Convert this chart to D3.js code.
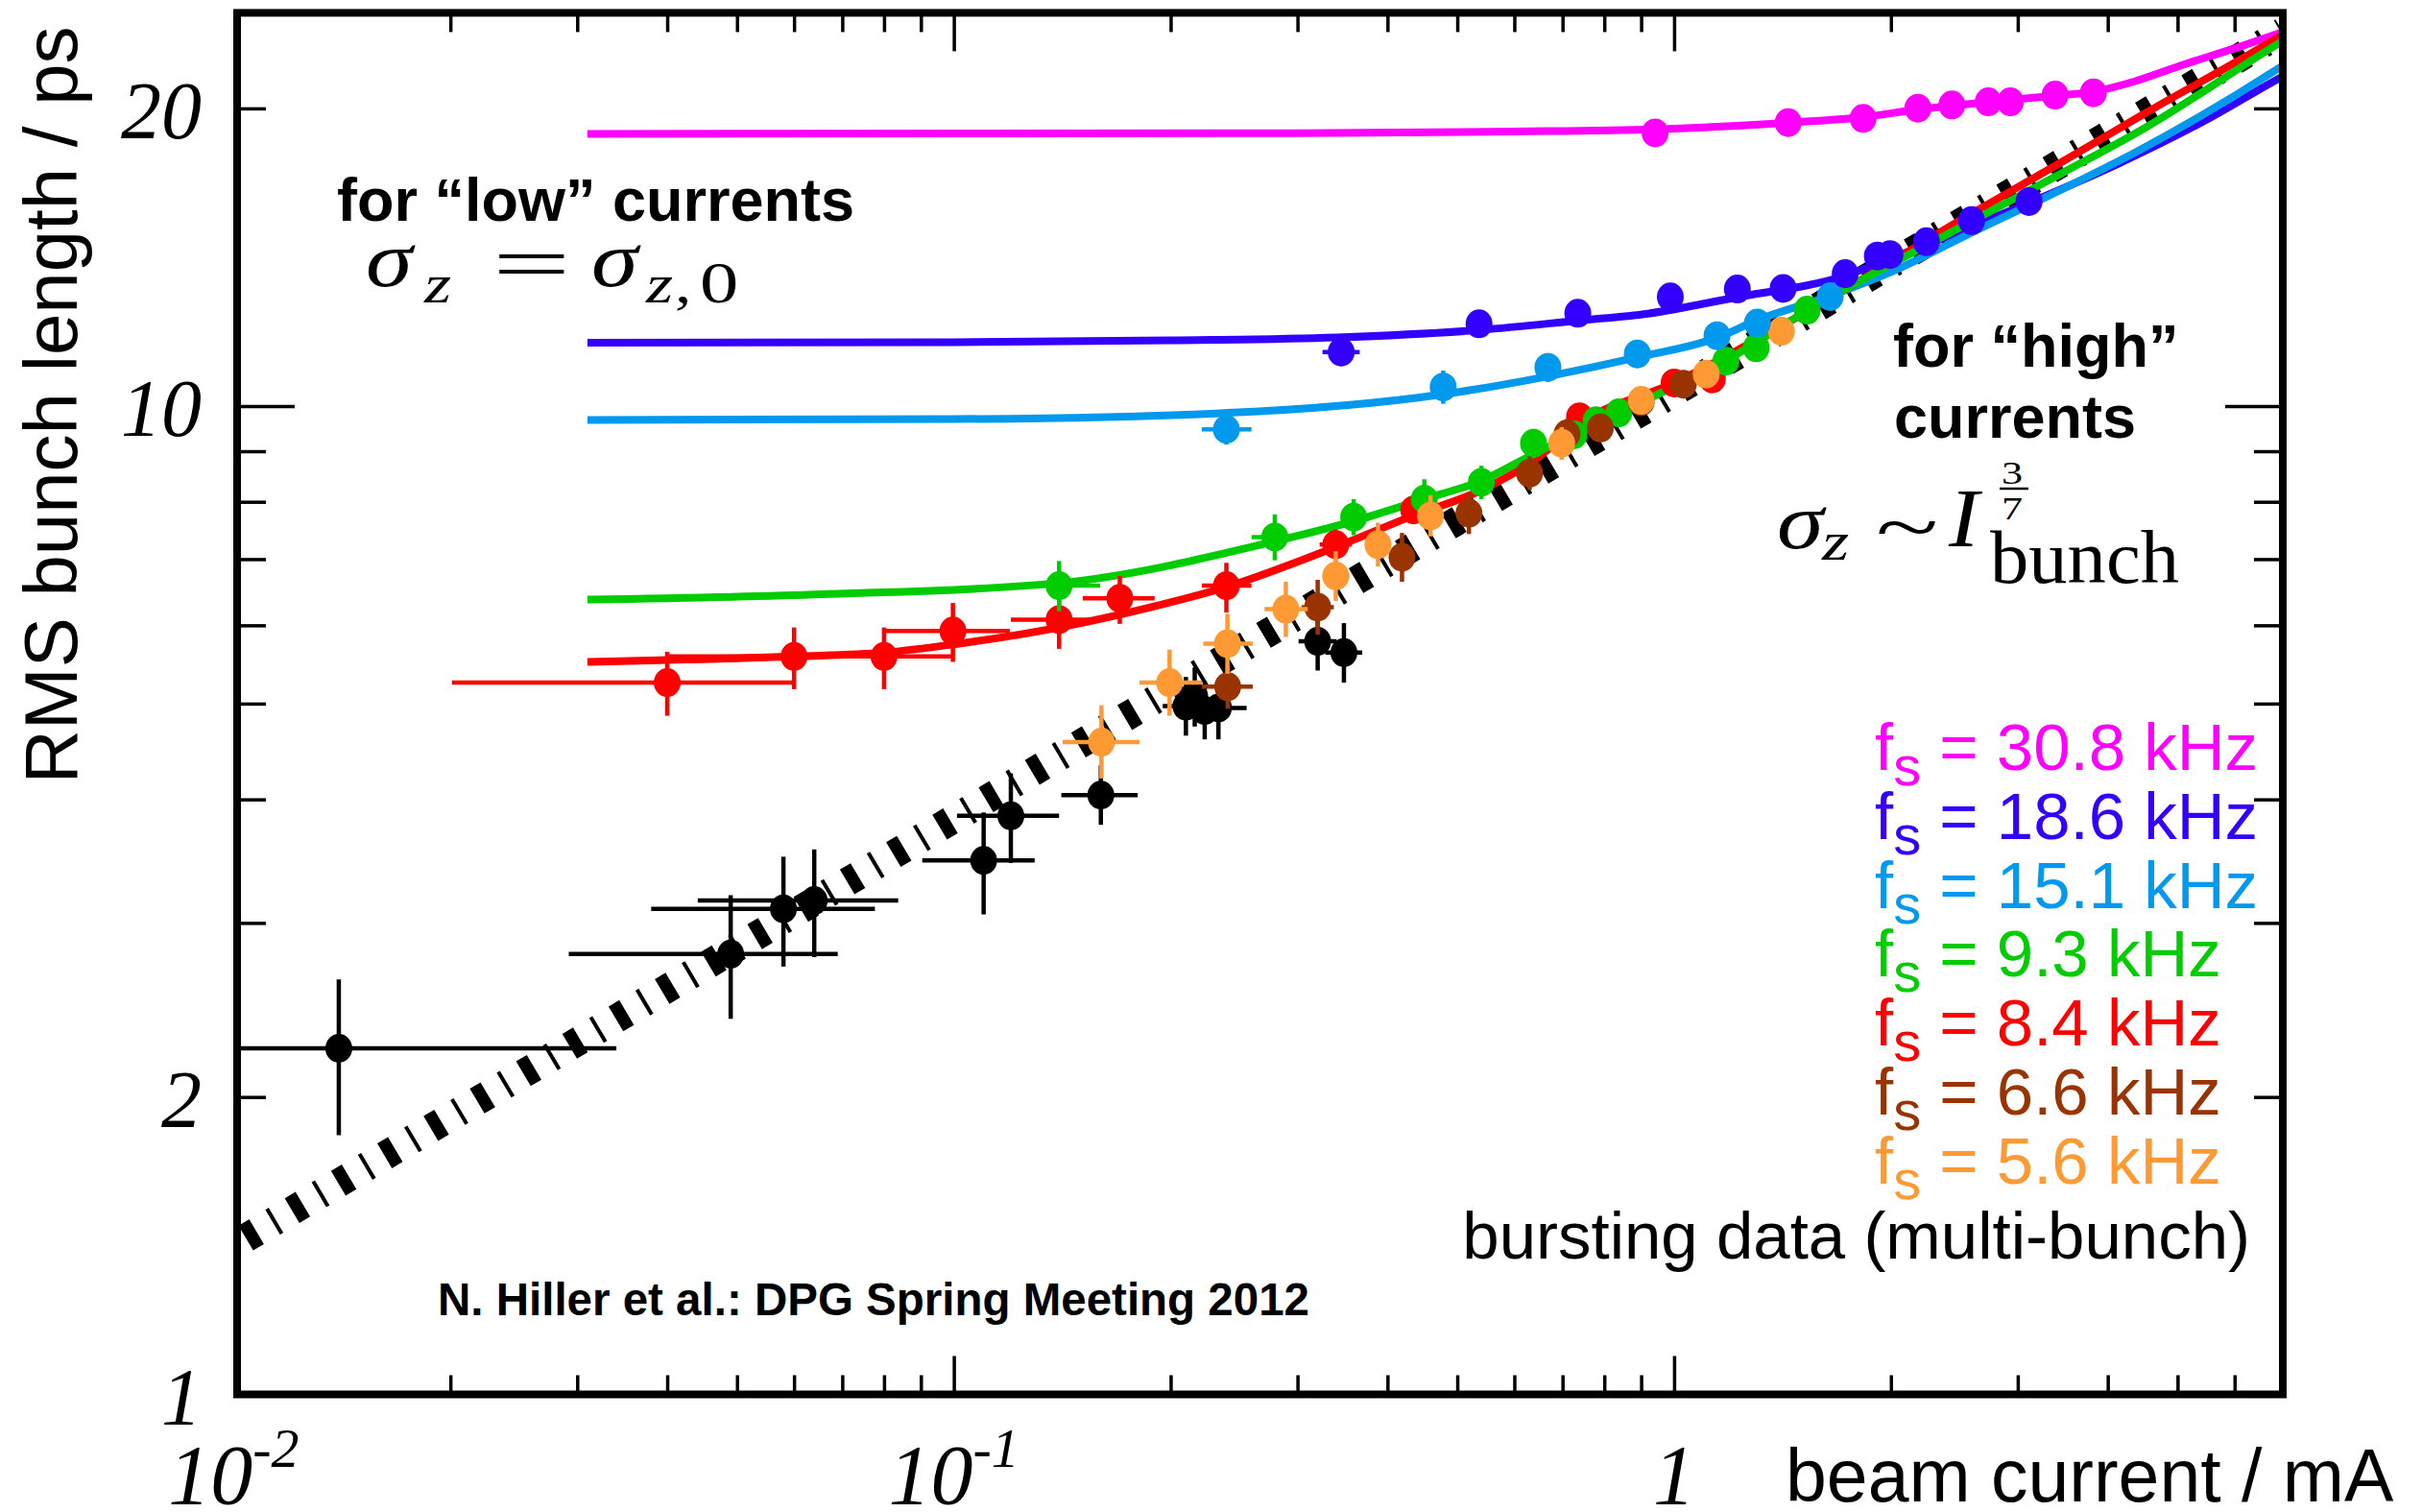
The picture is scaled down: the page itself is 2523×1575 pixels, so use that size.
<!DOCTYPE html>
<html>
<head>
<meta charset="utf-8">
<title>RMS bunch length vs beam current</title>
<script src="https://cdn.jsdelivr.net/npm/d3@7/dist/d3.min.js"></script>
<style>
  html, body { margin: 0; padding: 0; background: #fff; }
  svg { display: block; }
</style>
</head>
<body>
<svg id="chart" width="2523" height="1575"></svg>
<script>
// values: beam current in mA, bunch length in ps
// point rows: [I, sigma, Ilow, Ihigh, sigmaLow, sigmaHigh]

var blackPts = [
  [0.014, 2.24, 0.0058, 0.034, 1.83, 2.63],
  [0.049, 2.79, 0.0292, 0.069, 2.40, 3.20],
  [0.058, 3.10, 0.038, 0.0777, 2.71, 3.50],
  [0.064, 3.16, 0.0441, 0.0837, 2.77, 3.56],
  [0.110, 3.47, 0.0904, 0.1295, 3.06, 3.88],
  [0.120, 3.85, 0.101, 0.140, 3.45, 4.25],
  [0.160, 4.04, 0.141, 0.180, 3.77, 4.33],
  [0.210, 4.97, 0.195, 0.225, 4.64, 5.32],
  [0.216, 5.08, 0.216, 0.216, 4.74, 5.44],
  [0.223, 4.92, 0.223, 0.223, 4.60, 5.27],
  [0.233, 4.95, 0.215, 0.255, 4.60, 5.30],
  [0.320, 5.78, 0.301, 0.340, 5.40, 6.18],
  [0.348, 5.63, 0.328, 0.369, 5.25, 6.03]
];

var redPts = [
  [0.040, 5.25, 0.0201, 0.0599, 4.86, 5.64],
  [0.060, 5.58, 0.040, 0.080, 5.17, 5.97],
  [0.080, 5.58, 0.060, 0.0994, 5.17, 5.97],
  [0.0997, 5.92, 0.080, 0.1196, 5.51, 6.32],
  [0.140, 6.08, 0.120, 0.160, 5.68, 6.56],
  [0.170, 6.39, 0.151, 0.190, 6.02, 6.73],
  [0.239, 6.58, 0.221, 0.259, 6.18, 6.94],
  [0.339, 7.24, 0.322, 0.357, 6.98, 7.50],
  [0.435, 7.85, 0.435, 0.435, 7.60, 8.10],
  [0.739, 9.75, 0.739, 0.739, 9.50, 10.0],
  [1.00, 10.55, 1.00, 1.00, 10.3, 10.8],
  [1.13, 10.65, 1.13, 1.13, 10.4, 10.9]
];

var greenPts = [
  [0.140, 6.58, 0.1227, 0.1597, 6.20, 6.97],
  [0.279, 7.37, 0.259, 0.300, 6.98, 7.77],
  [0.359, 7.72, 0.345, 0.373, 7.40, 8.05],
  [0.450, 8.05, 0.438, 0.462, 7.69, 8.43],
  [0.540, 8.37, 0.540, 0.540, 8.05, 8.70],
  [0.638, 9.17, 0.638, 0.638, 8.87, 9.48],
  [0.726, 9.35, 0.726, 0.726, 9.10, 9.60],
  [0.779, 9.66, 0.779, 0.779, 9.40, 9.92],
  [0.838, 9.84, 0.838, 0.838, 9.58, 10.1],
  [1.18, 11.10, 1.18, 1.18, 10.85, 11.35],
  [1.30, 11.45, 1.30, 1.30, 11.2, 11.7],
  [1.53, 12.50, 1.53, 1.53, 12.5, 12.5]
];

var brownPts = [
  [0.240, 5.20, 0.221, 0.260, 4.94, 5.47],
  [0.320, 6.26, 0.304, 0.337, 5.87, 6.67],
  [0.419, 7.03, 0.419, 0.419, 6.64, 7.44],
  [0.519, 7.79, 0.519, 0.519, 7.42, 8.17],
  [0.630, 8.55, 0.630, 0.630, 8.22, 8.89],
  [0.710, 9.37, 0.710, 0.710, 9.05, 9.70],
  [0.790, 9.50, 0.790, 0.790, 9.20, 9.80],
  [0.900, 10.1, 0.900, 0.900, 9.80, 10.4],
  [1.03, 10.52, 1.03, 1.03, 10.25, 10.8]
];

var orangePts = [
  [0.1603, 4.57, 0.1416, 0.181, 4.20, 4.98],
  [0.1993, 5.25, 0.181, 0.221, 4.86, 5.67],
  [0.2398, 5.75, 0.222, 0.260, 5.36, 6.16],
  [0.289, 6.23, 0.270, 0.310, 5.84, 6.64],
  [0.339, 6.73, 0.325, 0.354, 6.35, 7.13],
  [0.388, 7.24, 0.376, 0.400, 6.88, 7.62],
  [0.459, 7.74, 0.459, 0.459, 7.38, 8.12],
  [0.698, 9.17, 0.698, 0.698, 8.82, 9.52],
  [0.900, 10.13, 0.900, 0.900, 9.84, 10.43],
  [1.108, 10.77, 1.108, 1.108, 10.5, 11.04],
  [1.409, 11.90, 1.409, 1.409, 11.65, 12.15]
];

var lightbluePts = [
  [0.239, 9.47, 0.221, 0.259, 9.14, 9.81],
  [0.478, 10.45, 0.478, 0.478, 10.05, 10.86],
  [0.668, 10.94, 0.668, 0.668, 10.58, 11.31],
  [0.889, 11.29, 0.889, 0.889, 10.93, 11.66],
  [1.147, 11.78, 1.147, 1.147, 11.5, 12.06],
  [1.305, 12.13, 1.305, 1.305, 12.13, 12.13],
  [1.647, 12.90, 1.647, 1.647, 12.9, 12.9]
];

var bluePts = [
  [0.345, 11.34, 0.325, 0.366, 10.98, 11.70],
  [0.536, 12.11, 0.536, 0.536, 11.74, 12.48],
  [0.735, 12.41, 0.735, 0.735, 12.05, 12.78],
  [0.988, 12.89, 0.988, 0.988, 12.6, 13.2],
  [1.224, 13.13, 1.224, 1.224, 13.13, 13.13],
  [1.417, 13.15, 1.417, 1.417, 13.15, 13.15],
  [1.728, 13.61, 1.728, 1.728, 13.61, 13.61],
  [1.915, 14.18, 1.915, 1.915, 14.18, 14.18],
  [1.994, 14.23, 1.994, 1.994, 14.23, 14.23],
  [2.24, 14.66, 2.24, 2.24, 14.66, 14.66],
  [2.588, 15.40, 2.588, 2.588, 15.4, 15.4],
  [3.11, 16.10, 3.11, 3.11, 16.1, 16.1]
];

var magentaPts = [
  [0.941, 18.89], [1.44, 19.35], [1.83, 19.54], [2.18, 20.01], [2.43, 20.16],
  [2.73, 20.31], [2.93, 20.31], [3.38, 20.63], [3.82, 20.74]
];

// fitted curves
var magentaFit = [[0.031,18.85],[0.3,18.88],[0.6,18.95],[0.94,19.05],[1.44,19.35],[1.83,19.6],[2.18,19.95],
  [2.73,20.3],[3.38,20.6],[3.83,20.8],[4.36,21.3],[5.1,22.15],[6.0,23.0],[7.0,23.9]];
var blueFit = [[0.031,11.59],[0.1,11.6],[0.2,11.65],[0.34,11.73],[0.54,11.94],[0.735,12.2],[0.92,12.4],
  [1.2,12.85],[1.73,13.55],[2.0,14.1],[2.6,15.2],[3.11,16.05],[4.15,17.6],[5.5,19.5],[6.8,21.3],[7.0,21.55]];
var lightblueFit = [[0.031,9.68],[0.1,9.7],[0.24,9.84],[0.48,10.28],[0.67,10.72],[0.89,11.2],[1.15,11.73],
  [1.3,12.2],[1.65,12.93],[2.0,13.66],[2.6,15.0],[3.36,16.4],[4.4,18.1],[6.8,21.8],[7.0,22.1]];
var greenFit = [[0.031,6.37],[0.066,6.45],[0.14,6.62],[0.28,7.3],[0.36,7.65],[0.45,8.05],[0.54,8.4],
  [0.64,8.95],[0.84,9.83],[1.0,10.47],[1.2,11.2],[1.52,12.45],[2.6,15.4],[3.43,17.15],[4.5,19.1],[6.8,23.1],[7.0,23.4]];
var redFit = [[0.031,5.51],[0.06,5.58],[0.08,5.63],[0.1,5.74],[0.14,5.97],[0.188,6.26],[0.239,6.56],
  [0.339,7.2],[0.435,7.75],[0.54,8.22],[0.638,8.8],[0.739,9.6],[1.0,10.55],[1.5,12.36],[2.6,15.68],
  [3.43,17.6],[4.5,19.76],[6.8,23.45],[7.0,23.75]];

// sigma ~ I^(3/7) guide line, its two ends
var scalingLine = [[0.0104, 1.44], [7.0, 23.9]];

var legendFreqs = ["30.8", "18.6", "15.1", "9.3", "8.4", "6.6", "5.6"];
var legendColors = ["#ff00ff", "#3300ff", "#0099ee", "#00cc00", "#ff0000", "#993300", "#ff9933"];

var xMinorTicks = [0.02,0.03,0.04,0.05,0.06,0.07,0.08,0.09,0.2,0.3,0.4,0.5,0.6,0.7,0.8,0.9,2,3,4,5,6];
var xMajorTicks = [0.1, 1];
var yMinorTicks = [2,3,4,5,6,7,8,9,20];
var yMajorTicks = [10];
var yTickLabels = [[1, "1"], [2, "2"], [10, "10"], [20, "20"]];

// ---------------------------------------------------------------

var svg = d3.select("#chart");
var W = 2523, H = 1575;
var SANS = "'Liberation Sans', Arial, Helvetica, sans-serif";
var SERIF = "'Liberation Serif', 'Times New Roman', serif";

svg.append("rect").attr("width", W).attr("height", H).attr("fill", "#fff");

var x = d3.scaleLog().domain([0.01, 7]).range([243.3, 2378]);
var y = d3.scaleLog().domain([1, 25]).range([1452.7, 13.1]);

// plot frame edges (window.top is reserved, so prefixed names)
var frameL = 247, frameR = 2378, frameT = 13.4, frameB = 1452.5;

svg.append("defs").append("clipPath").attr("id", "plotclip")
  .append("rect").attr("x", frameL).attr("y", frameT)
  .attr("width", frameR - frameL).attr("height", frameB - frameT);

var plot = svg.append("g").attr("clip-path", "url(#plotclip)");

// guide line with the thick/thin dash pattern
var line = d3.line().x(d => x(d[0])).y(d => y(d[1]));
plot.append("path")
  .attr("d", line(scalingLine))
  .attr("fill", "none")
  .attr("stroke", "#000")
  .attr("stroke-width", 30)
  .attr("stroke-dasharray", "13,19.5,4,19.5");

// fitted curves
var curve = d3.line().x(d => x(d[0])).y(d => y(d[1])).curve(d3.curveMonotoneX);
[[magentaFit, "#ff00ff"], [blueFit, "#3300ff"], [lightblueFit, "#0099ee"],
 [redFit, "#ff0000"], [greenFit, "#00cc00"]].forEach(function(f) {
  plot.append("path")
    .attr("d", curve(f[0]))
    .attr("fill", "none")
    .attr("stroke", f[1])
    .attr("stroke-width", 8)
    .attr("stroke-linejoin", "round");
});

// data points with error bars
var series = [
  [blackPts, "#000000"],
  [redPts, "#ff0000"],
  [greenPts, "#00cc00"],
  [brownPts, "#993300"],
  [orangePts, "#ff9933"],
  [lightbluePts, "#0099ee"],
  [bluePts, "#3300ff"],
  [magentaPts, "#ff00ff"]
];

series.forEach(function(s) {
  var g = plot.append("g");
  var pts = s[0], col = s[1];
  pts.forEach(function(d) {
    if (d.length > 2 && d[2] !== d[3]) {
      g.append("line")
        .attr("x1", x(d[2])).attr("x2", x(d[3]))
        .attr("y1", y(d[1])).attr("y2", y(d[1]))
        .attr("stroke", col).attr("stroke-width", 4.5);
    }
    if (d.length > 2 && d[4] !== d[5]) {
      g.append("line")
        .attr("x1", x(d[0])).attr("x2", x(d[0]))
        .attr("y1", y(d[4])).attr("y2", y(d[5]))
        .attr("stroke", col).attr("stroke-width", 4.5);
    }
  });
  g.selectAll("ellipse")
    .data(pts)
    .enter().append("ellipse")
    .attr("cx", d => x(d[0]))
    .attr("cy", d => y(d[1]))
    .attr("rx", 14)
    .attr("ry", 15)
    .attr("fill", col);
});

// axes: ticks point inwards, labels drawn by hand
function styleAxis(g) {
  g.select(".domain").remove();
  g.selectAll("text").remove();
  g.selectAll("line").attr("stroke", "#000").attr("stroke-width", 3.5);
}

svg.append("g").attr("transform", "translate(0," + frameB + ")")
  .call(d3.axisBottom(x).tickValues(xMinorTicks).tickSize(-20).tickFormat("")).call(styleAxis);
svg.append("g").attr("transform", "translate(0," + frameB + ")")
  .call(d3.axisBottom(x).tickValues(xMajorTicks).tickSize(-40).tickFormat("")).call(styleAxis);
svg.append("g").attr("transform", "translate(0," + frameT + ")")
  .call(d3.axisTop(x).tickValues(xMinorTicks).tickSize(-20).tickFormat("")).call(styleAxis);
svg.append("g").attr("transform", "translate(0," + frameT + ")")
  .call(d3.axisTop(x).tickValues(xMajorTicks).tickSize(-40).tickFormat("")).call(styleAxis);

svg.append("g").attr("transform", "translate(" + frameL + ",0)")
  .call(d3.axisLeft(y).tickValues(yMinorTicks).tickSize(-30).tickFormat("")).call(styleAxis);
svg.append("g").attr("transform", "translate(" + frameL + ",0)")
  .call(d3.axisLeft(y).tickValues(yMajorTicks).tickSize(-60).tickFormat("")).call(styleAxis);
svg.append("g").attr("transform", "translate(" + frameR + ",0)")
  .call(d3.axisRight(y).tickValues(yMinorTicks).tickSize(-30).tickFormat("")).call(styleAxis);
svg.append("g").attr("transform", "translate(" + frameR + ",0)")
  .call(d3.axisRight(y).tickValues(yMajorTicks).tickSize(-60).tickFormat("")).call(styleAxis);

// frame
svg.append("rect")
  .attr("x", frameL).attr("y", frameT)
  .attr("width", frameR - frameL).attr("height", frameB - frameT)
  .attr("fill", "none").attr("stroke", "#000").attr("stroke-width", 8);

// y tick labels
yTickLabels.forEach(function(t) {
  svg.append("text")
    .attr("x", 210).attr("y", y(t[0]) + 31)
    .attr("text-anchor", "end")
    .attr("font-family", SERIF).attr("font-style", "italic").attr("font-size", 84)
    .text(t[1]);
});

// x tick labels
[[0.01, "-2"], [0.1, "-1"]].forEach(function(t) {
  var tx = svg.append("text")
    .attr("x", x(t[0])).attr("y", 1566)
    .attr("text-anchor", "middle")
    .attr("font-family", SERIF).attr("font-style", "italic").attr("font-size", 88);
  tx.append("tspan").text("10");
  tx.append("tspan").attr("dy", -38).attr("font-size", 58).text(t[1]);
});
svg.append("text")
  .attr("x", x(1)).attr("y", 1566)
  .attr("text-anchor", "middle")
  .attr("font-family", SERIF).attr("font-style", "italic").attr("font-size", 88)
  .text("1");

// axis titles
svg.append("text")
  .attr("x", 1860).attr("y", 1564)
  .attr("font-family", SANS).attr("font-size", 77)
  .text("beam current / mA");

svg.append("text")
  .attr("transform", "translate(80,422) rotate(-90)")
  .attr("text-anchor", "middle")
  .attr("font-family", SANS).attr("font-size", 78)
  .text("RMS bunch length / ps");

// annotations
function boldNote(tx, ty, str, size) {
  svg.append("text")
    .attr("x", tx).attr("y", ty)
    .attr("font-family", SANS).attr("font-weight", "bold").attr("font-size", size)
    .text(str);
}
boldNote(351, 230, "for \u201clow\u201d currents", 63);
boldNote(1972, 382, "for \u201chigh\u201d", 63);
boldNote(1973, 456, "currents", 63);
boldNote(456, 1370, "N. Hiller et al.: DPG Spring Meeting 2012", 47.5);

// math pieces: [x, y, text, size, italic, horizontal stretch]
function mathPiece(p) {
  svg.append("text")
    .attr("transform", "translate(" + p[0] + "," + p[1] + ") scale(" + p[5] + ",1)")
    .attr("font-family", SERIF)
    .attr("font-style", p[4] ? "italic" : "normal")
    .attr("font-size", p[3])
    .text(p[2]);
}
[
  [381, 298, "\u03c3", 82, true, 1.2],
  [442, 315, "z", 58, true, 1.25],
  [513, 301, "=", 78, false, 1.85],
  [616, 298, "\u03c3", 82, true, 1.2],
  [673, 315, "z", 58, true, 1.25],
  [703, 315, ",", 58, false, 1.2],
  [729, 315, "0", 62, false, 1.3],

  [1851, 571, "\u03c3", 82, true, 1.2],
  [1898, 583, "z", 58, true, 1.25],
  [1954, 575, "~", 78, false, 1.55],
  [2030, 569, "I", 86, true, 1.1],
  [2085, 504, "3", 34, false, 1.3],
  [2085, 541, "7", 34, false, 1.3]
].forEach(mathPiece);

svg.append("line")
  .attr("x1", 2083).attr("x2", 2113).attr("y1", 509).attr("y2", 509)
  .attr("stroke", "#000").attr("stroke-width", 2.5);
svg.append("text")
  .attr("x", 2073).attr("y", 607)
  .attr("font-family", SERIF).attr("font-size", 78)
  .attr("textLength", 197).attr("lengthAdjust", "spacingAndGlyphs")
  .text("bunch");

// legend
legendFreqs.forEach(function(f, i) {
  var t = svg.append("text")
    .attr("x", 1953).attr("y", 802 + i * 71.8)
    .attr("font-family", SANS).attr("font-size", 69)
    .attr("fill", legendColors[i]);
  t.append("tspan").text("f");
  t.append("tspan").attr("dy", 16).attr("font-size", 58).text("s");
  t.append("tspan").attr("dy", -16).text(" = " + f + " kHz");
});
svg.append("text")
  .attr("x", 2344).attr("y", 1311)
  .attr("text-anchor", "end")
  .attr("font-family", SANS).attr("font-size", 69)
  .text("bursting data (multi-bunch)");
</script>
</body>
</html>
